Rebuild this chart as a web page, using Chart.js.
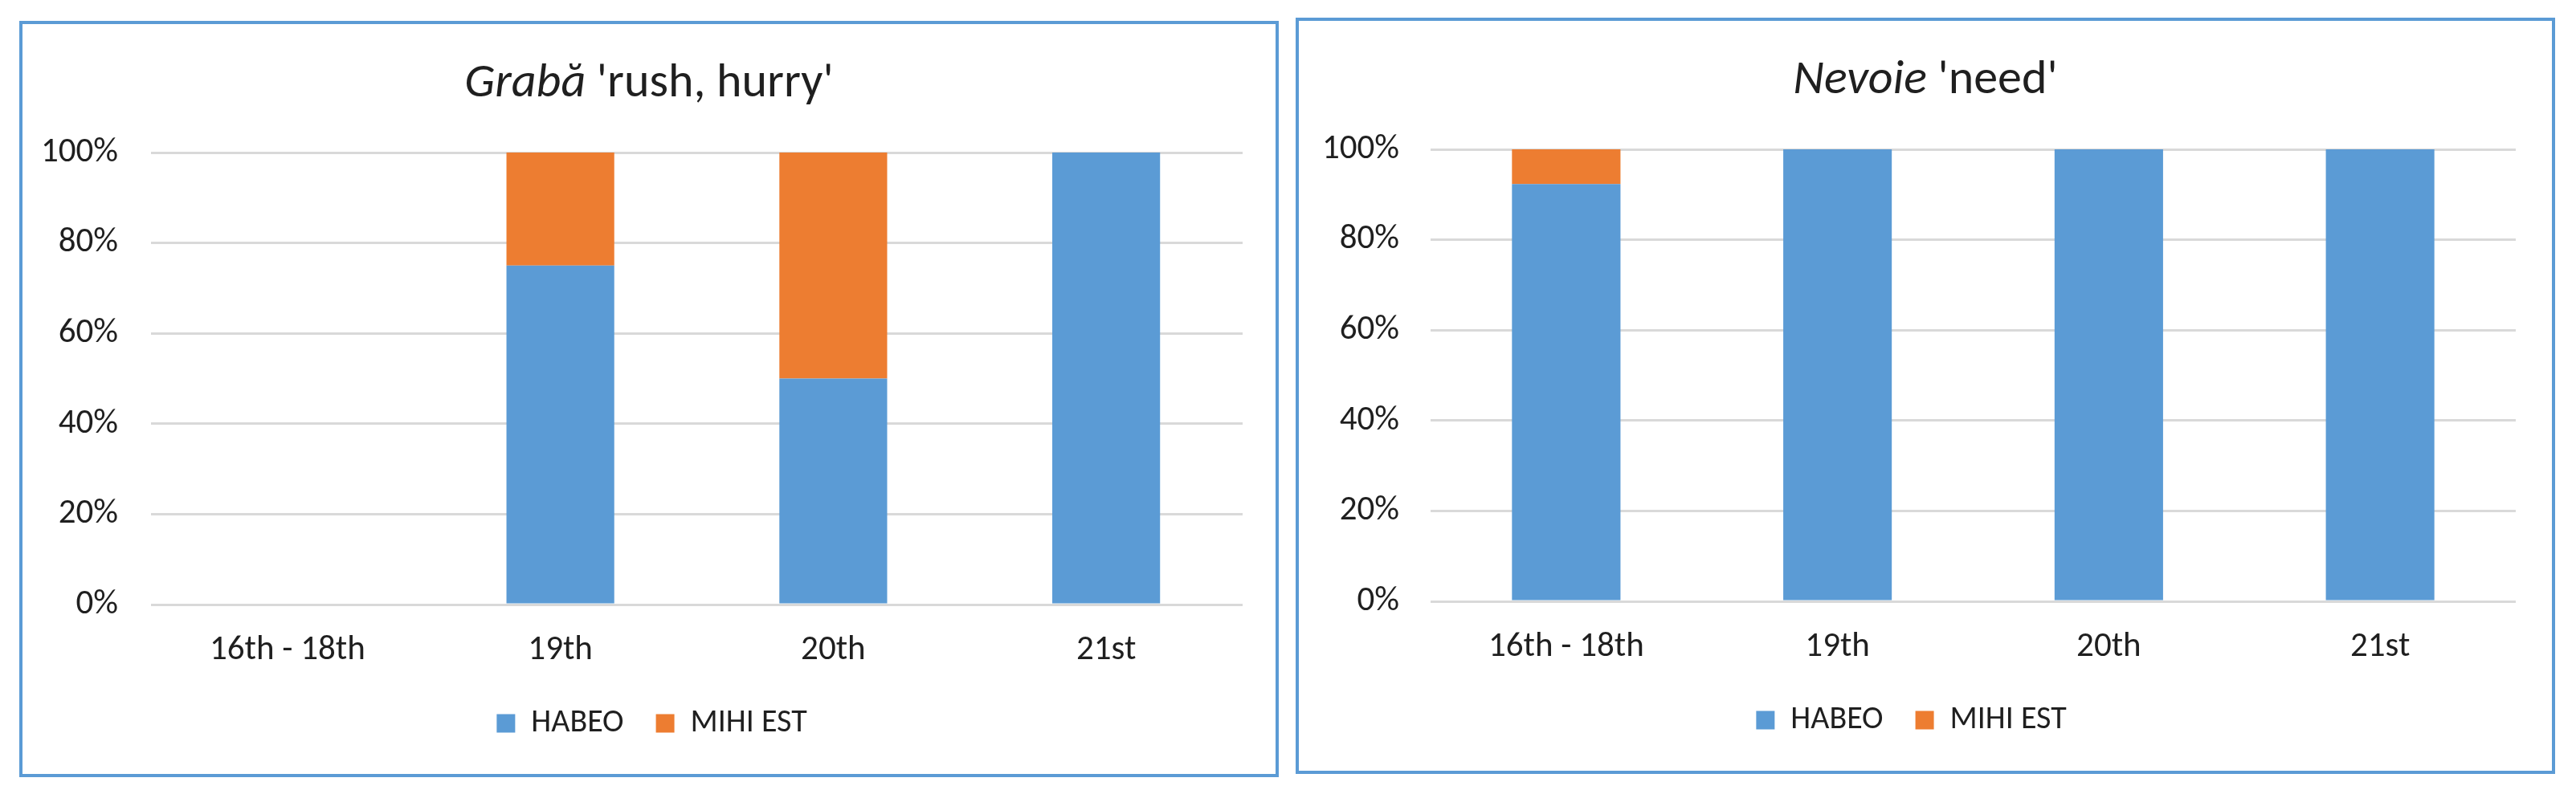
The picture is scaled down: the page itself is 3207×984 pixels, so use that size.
<!DOCTYPE html>
<html>
<head>
<meta charset="utf-8">
<script src="https://cdn.jsdelivr.net/npm/chart.js@4"></script>
<style>
  html, body { margin: 0; padding: 0; background: #ffffff; }
  body { width: 3207px; height: 984px; position: relative; overflow: hidden; }
  .panel { position: absolute; box-sizing: border-box; border: 4px solid #5B9BD5; background: #fff; }
  .panel canvas { position: absolute; left: 0; top: 0; }
  .ttl { position: absolute; left: 0; right: 0; top: 35px; height: 70px; line-height: 70px;
         text-align: center; font-family: Carlito, Lato, 'Open Sans', sans-serif; font-size: 60px; color: #1f1f1f; white-space: nowrap; }
</style>
</head>
<body>
<div class="panel" id="p1" style="left:24px; top:26px; width:1568px; height:942px;">
  <canvas id="c1"></canvas>
  <div class="ttl"><i>Grabă</i> 'rush, hurry'</div>
</div>
<div class="panel" id="p2" style="left:1613px; top:22px; width:1568px; height:942px;">
  <canvas id="c2"></canvas>
  <div class="ttl"><i>Nevoie</i> 'need'</div>
</div>
<script>
// ---- data ----
const categories = ['16th - 18th', '19th', '20th', '21st'];
const seriesNames = ['HABEO', 'MIHI EST'];
const grabaHabeo = [0, 75, 50, 100];
const grabaMihiEst = [0, 25, 50, 0];
const nevoieHabeo = [92.3, 100, 100, 100];
const nevoieMihiEst = [7.7, 0, 0, 0];
const yTicks = [0, 20, 40, 60, 80, 100];

// ---- style ----
const BLUE = '#5B9BD5';
const ORANGE = '#ED7D31';
const TEXT = '#1f1f1f';
const GRID = '#D9D9D9';
const FONT = "Carlito, Lato, 'Open Sans', sans-serif";

Chart.defaults.font.family = FONT;
Chart.defaults.color = TEXT;
Chart.defaults.animation = false;

// shifts the legend box sideways after layout (to sit where the reference puts it)
const legendShift = {
  id: 'legendShift',
  afterLayout(chart, args, opts) {
    const lg = chart.legend;
    if (lg && opts.dx) { lg.left += opts.dx; lg.right += opts.dx; }
  }
};

function makeChart(id, habeo, mihi, geo) {
  const cv = document.getElementById(id);
  cv.width = 1560; cv.height = 934;
  cv.style.width = '1560px'; cv.style.height = '934px';
  return new Chart(cv, {
    type: 'bar',
    plugins: [legendShift],
    data: {
      labels: categories,
      datasets: [
        { label: seriesNames[0], data: habeo, backgroundColor: BLUE, borderWidth: 0,
          barPercentage: geo.bar, categoryPercentage: 1 },
        { label: seriesNames[1], data: mihi, backgroundColor: ORANGE, borderWidth: 0,
          barPercentage: geo.bar, categoryPercentage: 1 }
      ]
    },
    options: {
      responsive: false,
      maintainAspectRatio: false,
      devicePixelRatio: 1,
      layout: { padding: { top: 160, left: 0, right: geo.right, bottom: 33 } },
      plugins: {
        legendShift: { dx: geo.dx },
        title: { display: false },
        tooltip: { enabled: false },
        legend: {
          display: true, position: 'bottom', align: 'center',
          labels: { boxWidth: 23, boxHeight: 23, padding: 40, font: { size: 40 }, color: TEXT }
        }
      },
      scales: {
        x: {
          stacked: true,
          grid: { display: false, drawTicks: false },
          border: { display: false },
          ticks: { font: { size: 43 }, color: TEXT, padding: 31, maxRotation: 0 },
          afterFit: (s) => { s.height = 88; }
        },
        y: {
          stacked: true, min: 0, max: 100,
          afterBuildTicks: (s) => { s.ticks = yTicks.map(v => ({ value: v })); },
          grid: { color: GRID, lineWidth: 3, drawTicks: false },
          border: { display: false },
          ticks: { font: { size: 43 }, color: TEXT, padding: geo.tp, callback: (v) => v + '%' },
          afterFit: (s) => { s.width = geo.plotLeft; }
        }
      }
    }
  });
}

makeChart('c1', grabaHabeo, grabaMihiEst, { right: 41, plotLeft: 160, tp: 41, bar: 0.395, dx: 24 });
makeChart('c2', nevoieHabeo, nevoieMihiEst, { right: 45, plotLeft: 164, tp: 39, bar: 0.4, dx: 5 });
</script>
</body>
</html>
